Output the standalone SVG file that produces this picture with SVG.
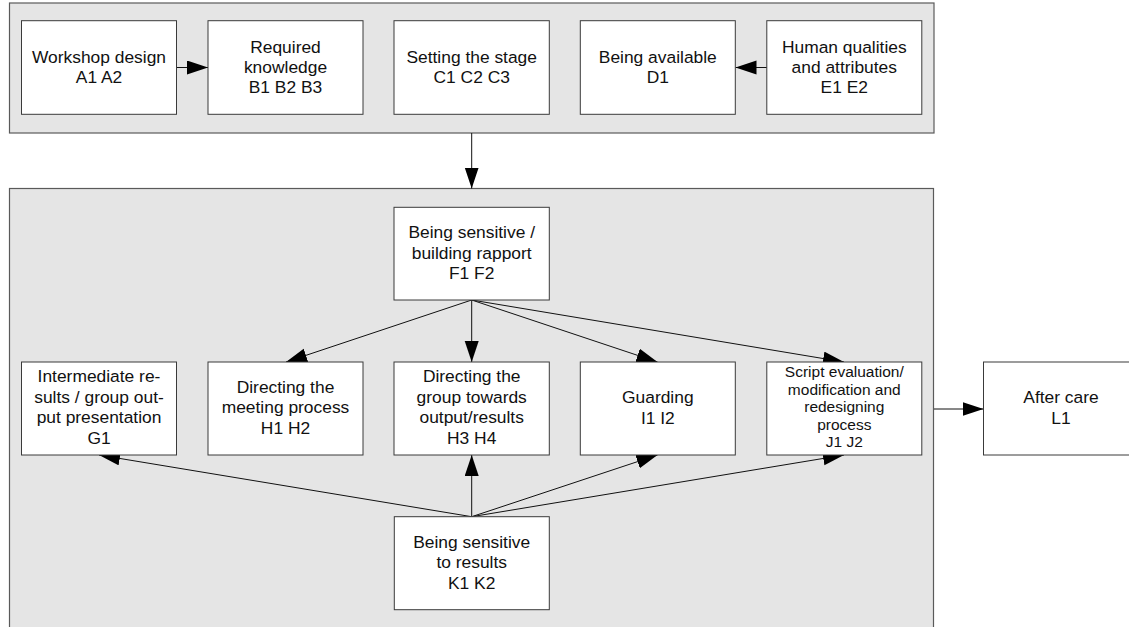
<svg xmlns="http://www.w3.org/2000/svg" width="1129" height="627" viewBox="0 0 1129 627">
<style>
.cont{fill:#e5e5e5;stroke:#5a5a5a;stroke-width:1.2}
.box{fill:#ffffff;stroke:#3a3a3a;stroke-width:1}
.t{font-family:"Liberation Sans",Arial,sans-serif;font-size:17.4px;fill:#111;text-anchor:middle}
.ts{font-size:15.5px}
.c{fill:none;stroke:#111;stroke-width:1}
</style>
<defs>
<marker id="ah" markerUnits="userSpaceOnUse" markerWidth="22" markerHeight="15" refX="21" refY="7" orient="auto">
<path d="M0,0 L21,7 L0,14 z" fill="#000"/>
</marker>
</defs>
<rect width="1129" height="627" fill="#fff"/>
<g id="containers">
<rect id="top-group" class="cont" x="9.5" y="3" width="924.5" height="130"/>
<rect id="bottom-group" class="cont" x="9.5" y="188.5" width="924" height="460"/>
</g>
<g id="connectors">
<line class="c" x1="177" y1="67.5" x2="208" y2="67.5" marker-end="url(#ah)"/>
<line class="c" x1="767" y1="67.5" x2="735.5" y2="67.5" marker-end="url(#ah)"/>
<line class="c" x1="471.7" y1="133" x2="471.7" y2="188.5" marker-end="url(#ah)"/>
<line class="c" x1="471.7" y1="300" x2="286" y2="362" marker-end="url(#ah)"/>
<line class="c" x1="471.7" y1="300" x2="471.7" y2="362" marker-end="url(#ah)"/>
<line class="c" x1="471.7" y1="300" x2="657.5" y2="362" marker-end="url(#ah)"/>
<line class="c" x1="471.7" y1="300" x2="844" y2="362" marker-end="url(#ah)"/>
<line class="c" x1="471.7" y1="516.7" x2="99" y2="455" marker-end="url(#ah)"/>
<line class="c" x1="471.7" y1="516.7" x2="471.7" y2="455" marker-end="url(#ah)"/>
<line class="c" x1="471.7" y1="516.7" x2="657.5" y2="455" marker-end="url(#ah)"/>
<line class="c" x1="471.7" y1="516.7" x2="844" y2="455" marker-end="url(#ah)"/>
<line class="c" x1="934" y1="409" x2="983.5" y2="409" marker-end="url(#ah)"/>
</g>
<g id="A"><rect class="box" x="21.5" y="20.7" width="155" height="93.6"/>
<text class="t" x="99" y="63.3">Workshop design</text><text class="t" x="99" y="83">A1 A2</text></g>
<g id="B"><rect class="box" x="208" y="20.7" width="155" height="93.6"/>
<text class="t" x="285.5" y="52.5">Required</text><text class="t" x="285.5" y="72.8">knowledge</text><text class="t" x="285.5" y="93">B1 B2 B3</text></g>
<g id="C"><rect class="box" x="394" y="20.7" width="155.3" height="93.6"/>
<text class="t" x="471.7" y="63.3">Setting the stage</text><text class="t" x="471.7" y="83">C1 C2 C3</text></g>
<g id="D"><rect class="box" x="580.3" y="20.7" width="155" height="93.6"/>
<text class="t" x="657.8" y="63.3">Being available</text><text class="t" x="657.8" y="83">D1</text></g>
<g id="E"><rect class="box" x="766.8" y="20.7" width="155" height="93.6"/>
<text class="t" x="844.3" y="52.5">Human qualities</text><text class="t" x="844.3" y="72.8">and attributes</text><text class="t" x="844.3" y="93">E1 E2</text></g>
<g id="F"><rect class="box" x="394" y="207.3" width="155.3" height="92.7"/>
<text class="t" x="471.7" y="238.3">Being sensitive /</text><text class="t" x="471.7" y="258.6">building rapport</text><text class="t" x="471.7" y="279">F1 F2</text></g>
<g id="G"><rect class="box" x="21.5" y="362" width="155" height="93"/>
<text class="t" x="99" y="382">Intermediate re-</text><text class="t" x="99" y="402.5">sults / group out-</text><text class="t" x="99" y="423">put presentation</text><text class="t" x="99" y="443.7">G1</text></g>
<g id="H12"><rect class="box" x="208" y="362" width="155" height="93"/>
<text class="t" x="285.5" y="392.5">Directing the</text><text class="t" x="285.5" y="413">meeting process</text><text class="t" x="285.5" y="433.5">H1 H2</text></g>
<g id="H34"><rect class="box" x="394" y="362" width="155.3" height="93"/>
<text class="t" x="471.7" y="382">Directing the</text><text class="t" x="471.7" y="402.5">group towards</text><text class="t" x="471.7" y="423">output/results</text><text class="t" x="471.7" y="443.7">H3 H4</text></g>
<g id="I"><rect class="box" x="580.3" y="362" width="155" height="93"/>
<text class="t" x="657.8" y="403.3">Guarding</text><text class="t" x="657.8" y="424">I1 I2</text></g>
<g id="J"><rect class="box" x="766.8" y="362" width="155" height="93"/>
<text class="t ts" x="844.3" y="377.3">Script evaluation/</text><text class="t ts" x="844.3" y="394.8">modification and</text><text class="t ts" x="844.3" y="412.3">redesigning</text><text class="t ts" x="844.3" y="429.8">process</text><text class="t ts" x="844.3" y="447.3">J1 J2</text></g>
<g id="K"><rect class="box" x="394.3" y="516.7" width="155" height="93"/>
<text class="t" x="471.7" y="547.7">Being sensitive</text><text class="t" x="471.7" y="568">to results</text><text class="t" x="471.7" y="588.5">K1 K2</text></g>
<g id="L"><rect class="box" x="983.5" y="362" width="155" height="93"/>
<text class="t" x="1061" y="403.3">After care</text><text class="t" x="1061" y="423.8">L1</text></g>
</svg>
